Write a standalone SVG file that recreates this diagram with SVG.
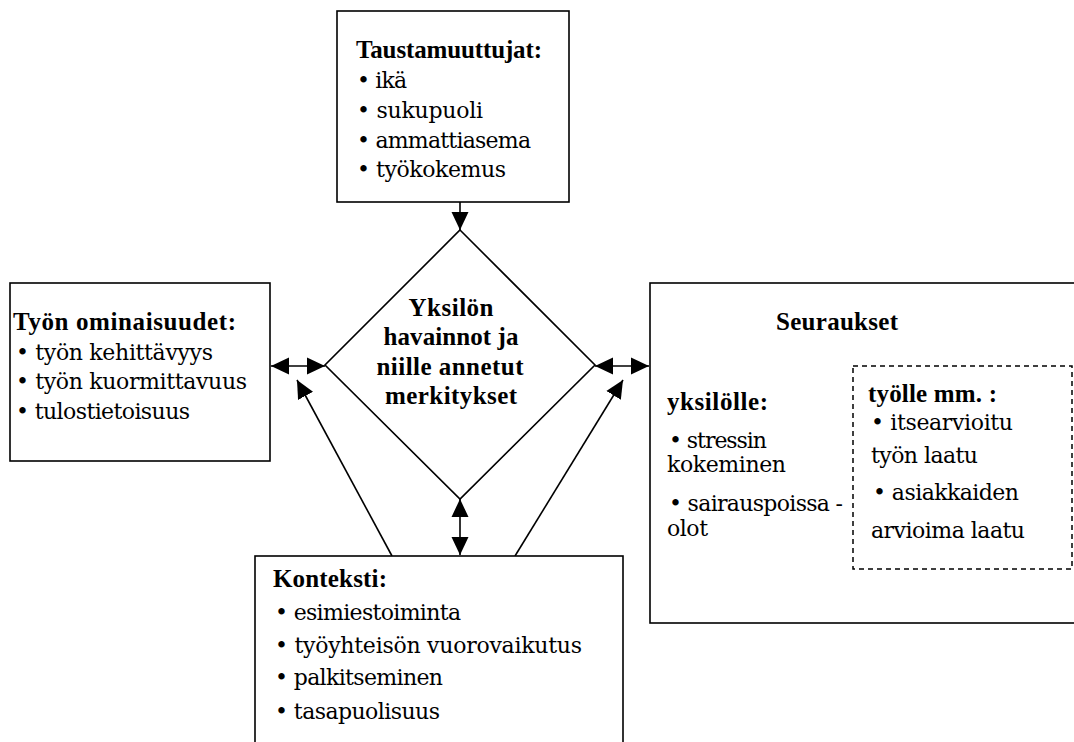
<svg xmlns="http://www.w3.org/2000/svg" width="1074" height="742" viewBox="0 0 1074 742">
<style>
.box{fill:#fff;stroke:#000;stroke-width:1.6}
.dash{fill:none;stroke:#000;stroke-width:1.5;stroke-dasharray:5 4}
.ln{fill:none;stroke:#000;stroke-width:1.6}
text{fill:#000}
.t{font-family:"DejaVu Serif","Liberation Serif",serif;font-size:22px}
.b{font-family:"Liberation Serif","Times New Roman",serif;font-size:25px;font-weight:bold}
.c{text-anchor:middle}
</style>
<defs>
<marker id="ah" markerUnits="userSpaceOnUse" markerWidth="18" markerHeight="18" viewBox="0 0 18 18" refX="18" refY="9" orient="auto-start-reverse">
<path d="M0,0.5 L18,9 L0,17.5 Z" fill="#000"/>
</marker>
</defs>
<rect width="1074" height="742" fill="#fff"/>
<g id="connectors">
<line class="ln" x1="460" y1="202" x2="460" y2="230" marker-end="url(#ah)"/>
<line class="ln" x1="271" y1="366" x2="325" y2="366" marker-start="url(#ah)" marker-end="url(#ah)"/>
<line class="ln" x1="595" y1="366" x2="649" y2="366" marker-start="url(#ah)" marker-end="url(#ah)"/>
<line class="ln" x1="460" y1="499" x2="460" y2="555" marker-start="url(#ah)" marker-end="url(#ah)"/>
<line class="ln" x1="392" y1="556" x2="297" y2="380" marker-end="url(#ah)"/>
<line class="ln" x1="515" y1="556" x2="623" y2="380" marker-end="url(#ah)"/>
</g>
<g id="taustamuuttujat">
<rect class="box" x="337" y="11" width="232" height="191"/>
<text class="b" x="356" y="58" textLength="186" lengthAdjust="spacing">Taustamuuttujat:</text>
<text class="t" x="357" y="88" textLength="50" lengthAdjust="spacing">• ikä</text>
<text class="t" x="357" y="118" textLength="126" lengthAdjust="spacing">• sukupuoli</text>
<text class="t" x="357" y="148" textLength="174" lengthAdjust="spacing">• ammattiasema</text>
<text class="t" x="357" y="177" textLength="149" lengthAdjust="spacing">• työkokemus</text>
</g>
<g id="yksilo">
<polygon class="box" points="460,230 595,365 460,499 325,365"/>
<text class="b c" x="451" y="316" textLength="85" lengthAdjust="spacing">Yksilön</text>
<text class="b c" x="451" y="345" textLength="135" lengthAdjust="spacing">havainnot ja</text>
<text class="b c" x="450" y="375" textLength="147" lengthAdjust="spacing">niille annetut</text>
<text class="b c" x="451" y="404" textLength="132" lengthAdjust="spacing">merkitykset</text>
</g>
<g id="tyon-ominaisuudet">
<rect class="box" x="10" y="283" width="260" height="178"/>
<text class="b" x="13" y="330" textLength="223" lengthAdjust="spacing">Työn ominaisuudet:</text>
<text class="t" x="16" y="360" textLength="197" lengthAdjust="spacing">• työn kehittävyys</text>
<text class="t" x="16" y="389" textLength="231" lengthAdjust="spacing">• työn kuormittavuus</text>
<text class="t" x="16" y="419" textLength="174" lengthAdjust="spacing">• tulostietoisuus</text>
</g>
<g id="seuraukset">
<rect class="box" x="650" y="283" width="430" height="340"/>
<text class="b" x="776" y="330" textLength="122" lengthAdjust="spacing">Seuraukset</text>
<text class="b" x="667" y="410" textLength="101" lengthAdjust="spacing">yksilölle:</text>
<text class="t" x="669" y="448" textLength="98" lengthAdjust="spacing">• stressin</text>
<text class="t" x="667" y="472" textLength="119" lengthAdjust="spacing">kokeminen</text>
<text class="t" x="669" y="511" textLength="174" lengthAdjust="spacing">• sairauspoissa -</text>
<text class="t" x="667" y="536" textLength="41" lengthAdjust="spacing">olot</text>
</g>
<g id="tyolle">
<rect class="dash" x="853" y="366" width="219" height="203"/>
<text class="b" x="868" y="402" textLength="129" lengthAdjust="spacing">työlle mm. :</text>
<text class="t" x="871" y="430" textLength="142" lengthAdjust="spacing">• itsearvioitu</text>
<text class="t" x="871" y="463" textLength="107" lengthAdjust="spacing">työn laatu</text>
<text class="t" x="873" y="500" textLength="146" lengthAdjust="spacing">• asiakkaiden</text>
<text class="t" x="871" y="538" textLength="154" lengthAdjust="spacing">arvioima laatu</text>
</g>
<g id="konteksti">
<rect class="box" x="255" y="556" width="368" height="200"/>
<text class="b" x="273" y="587" textLength="114" lengthAdjust="spacing">Konteksti:</text>
<text class="t" x="275" y="620" textLength="186" lengthAdjust="spacing">• esimiestoiminta</text>
<text class="t" x="275" y="653" textLength="307" lengthAdjust="spacing">• työyhteisön vuorovaikutus</text>
<text class="t" x="275" y="685" textLength="168" lengthAdjust="spacing">• palkitseminen</text>
<text class="t" x="275" y="719" textLength="165" lengthAdjust="spacing">• tasapuolisuus</text>
</g>
</svg>
